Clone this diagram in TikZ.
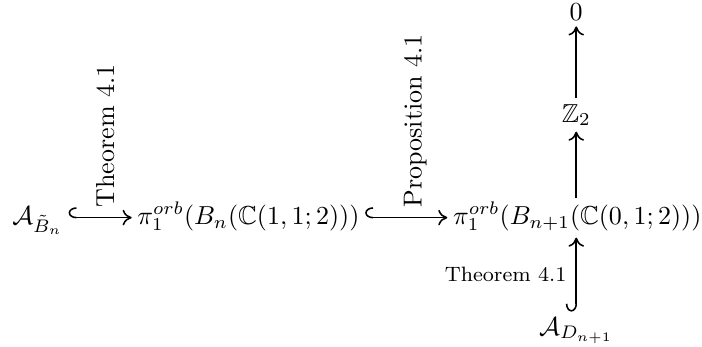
\documentclass[tikz,border=0pt]{standalone}
\usepackage{amsmath,amssymb}
\usetikzlibrary{arrows.meta}

\begin{document}
\begin{tikzpicture}[
  obj/.style={inner sep=2pt, text height=8pt, text depth=3pt},
  pt/.style={inner sep=2pt},
  incl/.style={{Hooks[right, length=3pt, width=8pt]}-{To[length=3.5pt, width=6pt]}, line width=0.6pt},
  mor/.style={-{To[length=3.5pt, width=6pt]}, line width=0.6pt},
  sidelbl/.style={rotate=90, anchor=west, inner sep=1pt},
  botlbl/.style={font=\footnotesize, left, inner sep=3.5pt}
]
\useasboundingbox (0,0) rectangle (9.49,4.69);
% main row
\node[obj, anchor=base west] (ab) at (0.09,1.66) {$\mathcal{A}_{\tilde{B}_n}$};
\node[obj, anchor=base west] (pi1) at (1.78,1.66) {$\pi_1^{orb}(B_n(\mathbb{C}(1,1;2)))$};
\node[obj, anchor=base east] (pi2) at (9.56,1.66) {$\pi_1^{orb}(B_{n+1}(\mathbb{C}(0,1;2)))$};
% column
\node[pt, anchor=base] (zero) at (7.79,4.41) {$0$};
\node[pt, anchor=base] (zz) at (7.79,3.04) {$\mathbb{Z}_2$};
\node[pt, anchor=base] (ad) at (7.79,0.16) {$\mathcal{A}_{D_{n+1}}$};

\draw[incl] (ab) -- (pi1)
  node[midway, xshift=2pt, yshift=2.6pt, sidelbl] {Theorem 4.1};
\draw[incl] (pi1) -- (pi2)
  node[midway, xshift=3.5pt, yshift=2.6pt, sidelbl] {Proposition 4.1};
\draw[mor] (zz) -- (zero);
\draw[mor] (pi2.north -| zz) -- (zz);
\draw[incl] (ad) -- (pi2.south -| ad)
  node[midway, botlbl] {Theorem 4.1};
\end{tikzpicture}
\end{document}
